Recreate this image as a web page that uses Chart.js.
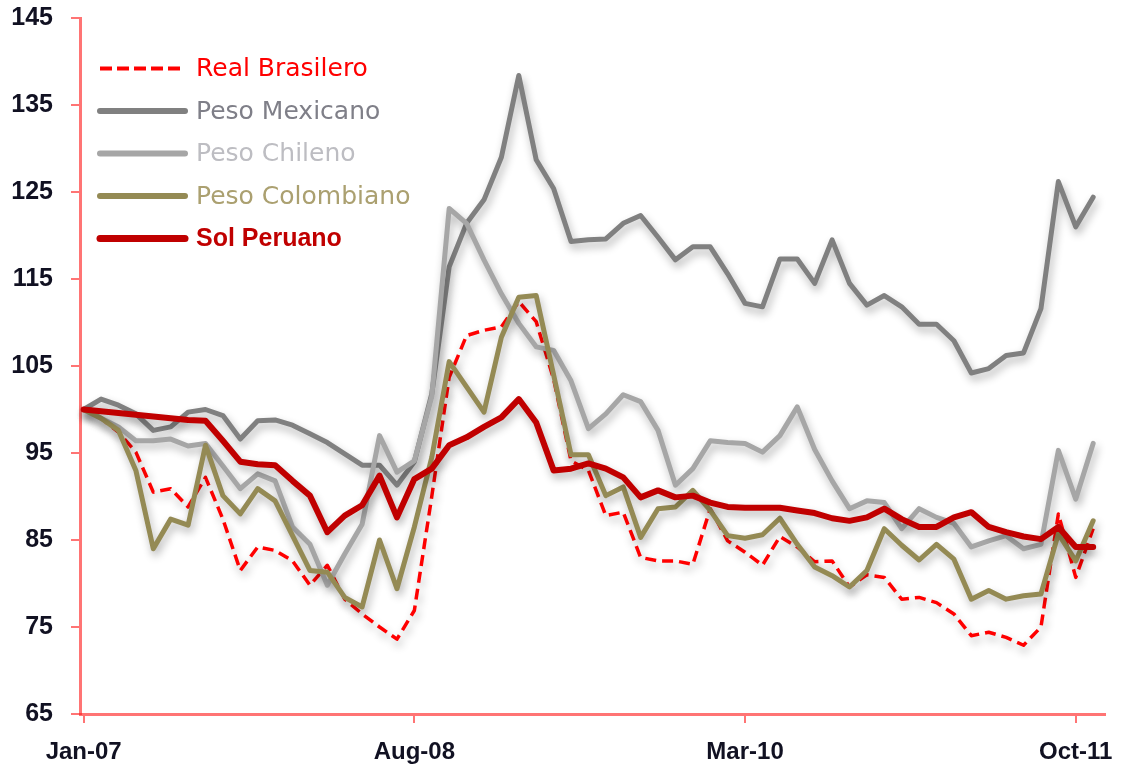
<!DOCTYPE html>
<html>
<head>
<meta charset="utf-8">
<script src="https://cdn.jsdelivr.net/npm/chart.js@4.4.1/dist/chart.umd.min.js"></script>
<style>
  html, body { margin: 0; padding: 0; background: #ffffff; }
  #wrap { width: 1127px; height: 767px; }
</style>
</head>
<body>
<div id="wrap"><canvas id="c" width="1127" height="767"></canvas></div>
<script>
// ---- Data ----
const categories = [
  'Jan-07','Feb-07','Mar-07','Apr-07','May-07','Jun-07','Jul-07','Aug-07','Sep-07','Oct-07','Nov-07','Dec-07',
  'Jan-08','Feb-08','Mar-08','Apr-08','May-08','Jun-08','Jul-08','Aug-08','Sep-08','Oct-08','Nov-08','Dec-08',
  'Jan-09','Feb-09','Mar-09','Apr-09','May-09','Jun-09','Jul-09','Aug-09','Sep-09','Oct-09','Nov-09','Dec-09',
  'Jan-10','Feb-10','Mar-10','Apr-10','May-10','Jun-10','Jul-10','Aug-10','Sep-10','Oct-10','Nov-10','Dec-10',
  'Jan-11','Feb-11','Mar-11','Apr-11','May-11','Jun-11','Jul-11','Aug-11','Sep-11','Oct-11','Nov-11'
];
const xTickIndex = [0, 19, 38, 57];

const realBrasilero = [
  100, 99.0, 97.4, 95.1, 90.5, 90.9, 88.8, 92.2, 87.4, 81.5,
  84.2, 83.8, 82.6, 79.8, 82.1, 78.2, 76.5, 75.0, 73.6, 76.9,
  90.0, 103.7, 108.5, 109.1, 109.5, 112.4, 110.1, 103.5, 94.1, 93.0,
  87.8, 88.2, 83.0, 82.6, 82.6, 82.2, 88.6, 84.9, 83.6, 82.1,
  85.4, 84.2, 82.5, 82.6, 79.6, 81.0, 80.7, 78.2, 78.4, 77.8,
  76.5, 74.0, 74.4, 73.8, 72.9, 75.0, 88.0, 80.7, 86.3
];
const pesoMexicano = [
  100, 101.2, 100.5, 99.5, 97.6, 98.0, 99.7, 100.0, 99.3, 96.6,
  98.7, 98.8, 98.2, 97.2, 96.2, 94.9, 93.6, 93.6, 91.3, 94.0,
  101.8, 116.4, 121.4, 124.1, 129.0, 138.4, 128.7, 125.4, 119.3, 119.5,
  119.6, 121.4, 122.3, 119.8, 117.2, 118.7, 118.7, 115.6, 112.2, 111.8,
  117.3, 117.3, 114.5, 119.5, 114.5, 112.0, 113.1, 111.8, 109.8, 109.8,
  107.9, 104.2, 104.7, 106.2, 106.5, 111.6, 126.2, 121.0, 124.4
];
const pesoChileno = [
  100, 99.0, 98.0, 96.4, 96.4, 96.6, 95.8, 96.1, 93.5, 90.9,
  92.6, 91.8, 86.5, 84.5, 79.8, 83.4, 86.8, 97.0, 92.8, 94.1,
  101.5, 123.1, 121.4, 117.2, 113.3, 109.9, 107.2, 106.8, 103.3, 97.8,
  99.5, 101.7, 100.9, 97.6, 91.3, 93.2, 96.4, 96.2, 96.1, 95.1,
  97.0, 100.3, 95.4, 91.8, 88.6, 89.5, 89.3, 86.3, 88.6, 87.6,
  86.9, 84.2, 84.9, 85.5, 84.0, 84.5, 95.3, 89.7, 96.1
];
const pesoColombiano = [
  100, 99.0, 97.6, 93.0, 84.0, 87.4, 86.7, 95.9, 90.1, 88.0,
  90.9, 89.5, 85.5, 81.5, 81.3, 78.4, 77.3, 85.0, 79.4, 86.5,
  94.5, 105.5, 102.6, 99.7, 108.3, 112.9, 113.1, 104.0, 94.8, 94.8,
  90.1, 91.1, 85.3, 88.6, 88.8, 90.7, 88.4, 85.5, 85.2, 85.6,
  87.5, 84.5, 81.9, 80.9, 79.6, 81.5, 86.3, 84.4, 82.7, 84.5,
  82.8, 78.2, 79.2, 78.2, 78.6, 78.8, 85.7, 82.6, 87.2
];
const solPeruano = [
  100, 99.8, 99.6, 99.4, 99.2, 99.0, 98.8, 98.7, 96.4, 94.0,
  93.7, 93.6, 91.8, 90.1, 85.9, 87.8, 89.0, 92.4, 87.6, 92.0,
  93.2, 95.9, 96.8, 98.0, 99.1, 101.2, 98.5, 93.0, 93.2, 93.8,
  93.2, 92.2, 89.9, 90.7, 89.9, 90.1, 89.3, 88.8, 88.7, 88.7,
  88.7, 88.4, 88.1, 87.5, 87.2, 87.6, 88.6, 87.4, 86.5, 86.5,
  87.6, 88.2, 86.5, 85.9, 85.4, 85.1, 86.5, 84.2, 84.2
];
const seriesNames = ['Real Brasilero', 'Peso Mexicano', 'Peso Chileno', 'Peso Colombiano', 'Sol Peruano'];
const yMin = 65, yMax = 145, yStep = 10;

// ---- Build ----
const toXY = arr => arr.map((v, i) => ({ x: i, y: v }));
const axisRed = 'rgba(255,30,30,0.62)';

const datasets = [
  { label: seriesNames[0], data: toXY(realBrasilero), borderColor: '#FF0000', borderWidth: 3.5,
    borderDash: [11, 6], borderCapStyle: 'butt', order: 4,
    legendText: '#FF0000', legendFont: '25px "DejaVu Sans"', legendWidth: 4 },
  { label: seriesNames[1], data: toXY(pesoMexicano), borderColor: '#808080', borderWidth: 5, order: 3,
    legendText: '#7F7F88', legendFont: '25px "DejaVu Sans"', legendWidth: 6 },
  { label: seriesNames[2], data: toXY(pesoChileno), borderColor: '#A6A6A6', borderWidth: 5, order: 2,
    legendText: '#BDBDC2', legendFont: '25px "DejaVu Sans"', legendWidth: 6 },
  { label: seriesNames[3], data: toXY(pesoColombiano), borderColor: '#948A54', borderWidth: 5, order: 1,
    legendText: '#ABA070', legendFont: '25px "DejaVu Sans"', legendWidth: 6 },
  { label: seriesNames[4], data: toXY(solPeruano), borderColor: '#C00000', borderWidth: 6, order: 0,
    legendText: '#C00000', legendFont: 'bold 25px "Liberation Sans"', legendWidth: 7 }
];
datasets.forEach(d => {
  d.pointRadius = 0; d.pointHoverRadius = 0; d.tension = 0; d.fill = false;
  d.borderJoinStyle = 'round';
  if (!d.borderCapStyle) d.borderCapStyle = 'round';
  d.clip = false;
});

const shadowPlugin = {
  id: 'lineShadow',
  beforeDatasetDraw(chart) {
    const ctx = chart.ctx;
    ctx.save();
    ctx.shadowColor = 'rgba(0,0,0,0.30)';
    ctx.shadowBlur = 8;
    ctx.shadowOffsetX = 2;
    ctx.shadowOffsetY = 5;
  },
  afterDatasetDraw(chart) { chart.ctx.restore(); }
};

const inlineLegend = {
  id: 'inlineLegend',
  afterDraw(chart) {
    const ctx = chart.ctx;
    const x0 = 100, x1 = 185, tx = 196, y0 = 68.5, step = 42.5;
    chart.data.datasets.forEach((ds, i) => {
      const y = y0 + i * step;
      ctx.save();
      ctx.strokeStyle = ds.borderColor;
      ctx.lineWidth = ds.legendWidth;
      ctx.lineCap = ds.borderDash ? 'butt' : 'round';
      ctx.setLineDash(ds.borderDash ? [12, 5] : []);
      ctx.beginPath();
      ctx.moveTo(x0, y);
      ctx.lineTo(x1, y);
      ctx.stroke();
      ctx.setLineDash([]);
      ctx.fillStyle = ds.legendText;
      ctx.font = ds.legendFont;
      ctx.textBaseline = 'middle';
      ctx.textAlign = 'left';
      ctx.fillText(ds.label, tx, y + 1);
      ctx.restore();
    });
  }
};

new Chart(document.getElementById('c'), {
  type: 'line',
  data: { datasets },
  options: {
    responsive: false,
    animation: false,
    events: [],
    layout: { padding: { top: 18, right: 22, bottom: 0, left: 0 } },
    plugins: { legend: { display: false }, tooltip: { enabled: false } },
    scales: {
      x: {
        type: 'linear',
        min: -0.21,
        max: 58.68,
        afterFit(scale) { scale.height = 53; scale.paddingLeft = 0; scale.paddingRight = 0; },
        afterBuildTicks(scale) { scale.ticks = xTickIndex.map(v => ({ value: v })); },
        border: { display: true, color: axisRed, width: 3 },
        grid: { display: true, drawOnChartArea: false, drawTicks: true, tickLength: 9, color: axisRed, lineWidth: 2 },
        ticks: {
          autoSkip: false, maxRotation: 0, minRotation: 0, padding: 15,
          color: '#111122',
          font: { family: '"Liberation Sans"', size: 24, weight: 'bold' },
          callback: v => categories[v]
        }
      },
      y: {
        min: yMin,
        max: yMax,
        afterFit(scale) { scale.width = 80; scale.paddingTop = 0; scale.paddingBottom = 0; },
        border: { display: true, color: axisRed, width: 3 },
        grid: { display: true, drawOnChartArea: false, drawTicks: true, tickLength: 9, color: axisRed, lineWidth: 2 },
        ticks: {
          stepSize: yStep, padding: 18,
          color: '#111122',
          font: { family: '"Liberation Sans"', size: 25, weight: 'bold' }
        }
      }
    }
  },
  plugins: [shadowPlugin, inlineLegend]
});
</script>
</body>
</html>
